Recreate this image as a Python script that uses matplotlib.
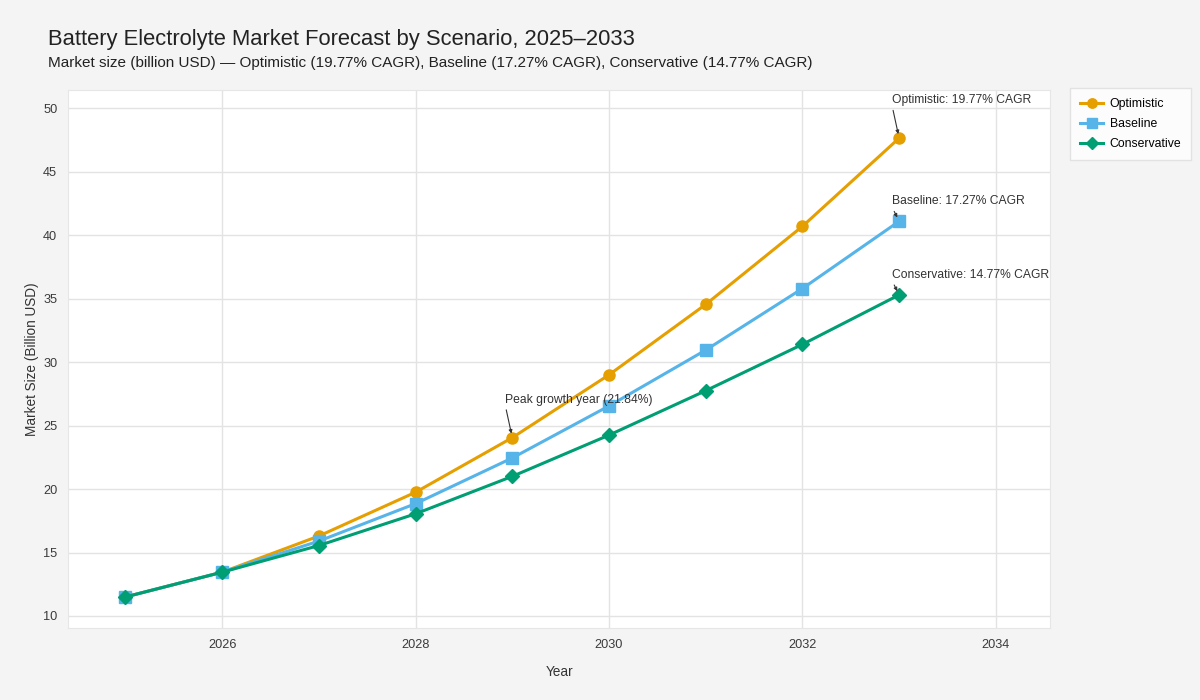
import matplotlib
matplotlib.use("Agg")
import matplotlib.pyplot as plt

years = [2025, 2026, 2027, 2028, 2029, 2030, 2031, 2032, 2033]
optimistic = [11.5, 13.45, 16.3, 19.75, 24.05, 29.0, 34.55, 40.7, 47.65]
baseline = [11.5, 13.45, 15.9, 18.85, 22.45, 26.55, 30.95, 35.8, 41.1]
conservative = [11.5, 13.45, 15.55, 18.05, 21.0, 24.25, 27.75, 31.4, 35.3]

names = ["Optimistic", "Baseline", "Conservative"]
cagr = [19.77, 17.27, 14.77]
colors = ["#E69F00", "#56B4E9", "#009E73"]
markers = ["o", "s", "D"]
peak_year = 2029
peak_pct = 21.84

plt.rcParams["font.family"] = ["Liberation Sans", "DejaVu Sans"]

fig = plt.figure(figsize=(12, 7), dpi=100, facecolor="#f4f4f4")
ax = fig.add_axes([0.057, 0.103, 0.818, 0.768])
ax.set_facecolor("white")

series = [optimistic, baseline, conservative]
msizes = [8, 8, 7.5]
for name, vals, c, m, ms in zip(names, series, colors, markers, msizes):
    ax.plot(years, vals, color=c, marker=m, markersize=ms, linewidth=2.2, label=name, zorder=3)

ax.set_xlim(2024.41, 2034.56)
ax.set_ylim(9.06, 51.42)
ax.set_xticks([2026, 2028, 2030, 2032, 2034])
ax.set_yticks([10, 15, 20, 25, 30, 35, 40, 45, 50])
ax.grid(True, color="#e3e3e3", linewidth=1)
ax.set_axisbelow(True)
ax.tick_params(length=0, labelsize=9.2, colors="#3a3a3a", pad=8)
for s in ax.spines.values():
    s.set_color("#e6e6e6")

ax.set_xlabel("Year", fontsize=9.8, color="#333333", labelpad=10)
ax.set_ylabel("Market Size (Billion USD)", fontsize=9.8, color="#333333", labelpad=3)

arrow = dict(arrowstyle="-|>", color="#333333", lw=0.8, mutation_scale=5,
             shrinkA=1, shrinkB=3, relpos=(0.0, 0.0))

# end-of-line CAGR labels (optimistic one sits higher)
label_dy = [23, 10, 10]
for name, vals, r, dy in zip(names, series, cagr, label_dy):
    ax.annotate(f"{name}: {r:.2f}% CAGR", xy=(years[-1], vals[-1]), xytext=(-5, dy),
                textcoords="offset points", fontsize=8.7, color="#333333", ha="left", va="bottom",
                arrowprops=arrow)

i = years.index(peak_year)
ax.annotate(f"Peak growth year ({peak_pct:.2f}%)", xy=(years[i], optimistic[i]), xytext=(-5, 23),
            textcoords="offset points", fontsize=8.7, color="#333333", ha="left", va="bottom",
            arrowprops=arrow)

fig.text(0.04, 0.935, "Battery Electrolyte Market Forecast by Scenario, 2025\u20132033",
         fontsize=15.8, color="#222222")
fig.text(0.04, 0.905, "Market size (billion USD) \u2014 Optimistic (19.77% CAGR), Baseline (17.27% CAGR), Conservative (14.77% CAGR)",
         fontsize=11, color="#222222")

leg = fig.legend(loc="upper left", bbox_to_anchor=(0.892, 0.874), fontsize=8.8, frameon=True,
                 fancybox=False, edgecolor="#dddddd", handlelength=1.9, handletextpad=0.5,
                 borderpad=0.8, borderaxespad=0, labelspacing=0.65, markerscale=0.85)
leg.get_frame().set_facecolor("white")

fig.savefig("out.png", dpi=100, facecolor=fig.get_facecolor())
